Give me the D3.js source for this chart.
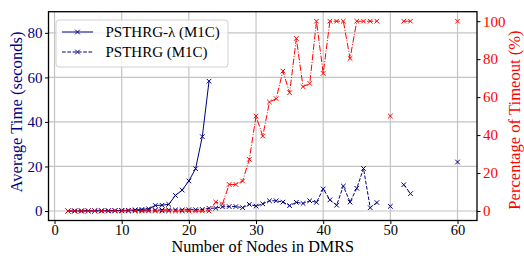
<!DOCTYPE html>
<html>
<head>
<meta charset="utf-8">
<title>chart</title>
<script src="https://cdn.jsdelivr.net/npm/d3@7"></script>
<style>
  body { margin: 0; background: #fff; }
  text { font-family: "Liberation Serif", "DejaVu Serif", serif; }
</style>
</head>
<body>
<div id="main-container"></div>
<script>
// x values: number of nodes in DMRS (null = no measurement)
var nodes = [2,3,4,5,6,7,8,9,10,11,12,13,14,15,16,17,18,19,20,21,22,23,24,25,26,27,28,29,30,31,
  32,33,34,35,36,37,38,39,40,41,42,43,44,45,46,47,48,49,50,51,52,53,54,55,56,57,58,59,60];

// average time (seconds), PSTHRG-lambda
var timeLambda = [0.02,0.03,0.05,0.07,0.1,0.12,0.15,0.2,0.25,0.35,0.5,0.7,1.0,2.5,2.6,3.0,7.0,9.4,13.5,19.0,33.4,58.3,
  null,null,null,null,null,null,null,null,null,null,null,null,null,null,null,null,null,null,null,null,null,null,null,
  null,null,null,null,null,null,null,null,null,null,null,null,null,null];

// average time (seconds), PSTHRG
var timePlain = [0,0,0.02,0.03,0.05,0.07,0.08,0.1,0.15,0.2,0.25,0.3,0.35,0.4,0.45,0.5,0.5,0.5,0.6,0.6,0.7,1.2,
  1.3,1.9,2.0,2.0,1.5,3.0,2.2,3.2,4.6,4.6,4.0,2.4,3.9,3.4,4.6,3.9,9.9,5.0,2.6,11.2,4.0,10.2,19.1,1.5,3.8,
  null,2.1,null,11.8,7.8,null,null,null,null,null,null,22.0];

// percentage of timeout (%)
var timeoutPct = [0,0,0,0,0,0,0,0,0,0,0,0,0,0,0,0,0,0,0,0,0,0,
  4.7,3.7,14,14,15.8,27.2,50,39.5,57.4,59.2,73.7,62.3,90.9,65.5,67.2,100,72.5,100,100,100,80.4,100,100,100,100,
  null,50,null,100,100,null,null,null,null,null,null,100];

var xTicks = [0,10,20,30,40,50,60];
var leftTicks = [0,20,40,60,80];
var rightTicks = [0,20,40,60,80,100];

var width = 524, height = 256;
var pLeft = 48.5, pRight = 477, pTop = 11.7, pBottom = 220.5;
var blue = "#000080", red = "#ff0000";

var svg = d3.select("#main-container").append("svg")
  .attr("width", width)
  .attr("height", height);

var x = d3.scaleLinear().domain([-0.9, 62.9]).range([pLeft, pRight]);
var yL = d3.scaleLinear().domain([-4.26, 89.5]).range([pBottom, pTop]);
var yR = d3.scaleLinear().domain([-5, 105]).range([pBottom, pTop]);

// grid
svg.append("g").selectAll("line").data(xTicks).enter().append("line")
  .attr("x1", function(d) { return x(d); }).attr("x2", function(d) { return x(d); })
  .attr("y1", pTop).attr("y2", pBottom)
  .attr("stroke", "#c4c4c4").attr("stroke-width", 1.2);
svg.append("g").selectAll("line").data(leftTicks).enter().append("line")
  .attr("y1", function(d) { return yL(d); }).attr("y2", function(d) { return yL(d); })
  .attr("x1", pLeft).attr("x2", pRight)
  .attr("stroke", "#c4c4c4").attr("stroke-width", 1.2);

// axes
function styleAxis(g, color, size) {
  g.select(".domain").remove();
  g.selectAll(".tick line").attr("stroke", "#000").attr("stroke-width", 1);
  g.selectAll(".tick text")
    .attr("fill", color)
    .style("font-family", "'Liberation Serif', serif")
    .style("font-size", size);
}

svg.append("g")
  .attr("transform", "translate(0," + pBottom + ")")
  .call(d3.axisBottom(x).tickValues(xTicks).tickSize(3.5).tickPadding(0.5))
  .call(styleAxis, "#000", "14.5px");

svg.append("g")
  .attr("transform", "translate(" + pLeft + ",0)")
  .call(d3.axisLeft(yL).tickValues(leftTicks).tickSize(3.5).tickPadding(2.5))
  .call(styleAxis, blue, "15px");

svg.append("g")
  .attr("transform", "translate(" + pRight + ",0)")
  .call(d3.axisRight(yR).tickValues(rightTicks).tickSize(3.5).tickPadding(2.5))
  .call(styleAxis, red, "15px");

// series
function drawSeries(values, yScale, color, dash) {
  var pts = nodes.map(function(n, i) { return { x: n, y: values[i] }; });
  var line = d3.line()
    .defined(function(d) { return d.y !== null; })
    .x(function(d) { return x(d.x); })
    .y(function(d) { return yScale(d.y); });
  svg.append("path")
    .datum(pts)
    .attr("d", line)
    .attr("fill", "none")
    .attr("stroke", color)
    .attr("stroke-width", 1)
    .attr("stroke-dasharray", dash);
  var s = 2.3;
  svg.append("g").selectAll("path").data(pts.filter(function(d) { return d.y !== null; }))
    .enter().append("path")
    .attr("d", function(d) {
      var cx = x(d.x), cy = yScale(d.y);
      return "M" + (cx - s) + "," + (cy - s) + "L" + (cx + s) + "," + (cy + s) +
             "M" + (cx - s) + "," + (cy + s) + "L" + (cx + s) + "," + (cy - s);
    })
    .attr("stroke", color)
    .attr("stroke-width", 1)
    .attr("fill", "none");
}

drawSeries(timeLambda, yL, blue, null);
drawSeries(timePlain, yL, blue, "3.7,1.6");

// legend
var legend = svg.append("g");
legend.append("rect")
  .attr("x", 56).attr("y", 20).attr("width", 172).attr("height", 47)
  .attr("rx", 3)
  .attr("fill", "#fff").attr("fill-opacity", 0.8)
  .attr("stroke", "#d0d0d0").attr("stroke-width", 1);
var legendItems = [
  { label: "PSTHRG-λ (M1C)", dash: null, y: 32 },
  { label: "PSTHRG (M1C)", dash: "3.7,1.6", y: 52 }
];
legendItems.forEach(function(it) {
  legend.append("line")
    .attr("x1", 62).attr("x2", 93).attr("y1", it.y).attr("y2", it.y)
    .attr("stroke", blue).attr("stroke-width", 1).attr("stroke-dasharray", it.dash);
  legend.append("path")
    .attr("d", "M75.2," + (it.y - 2.3) + "L79.8," + (it.y + 2.3) + "M75.2," + (it.y + 2.3) + "L79.8," + (it.y - 2.3))
    .attr("stroke", blue).attr("stroke-width", 1);
  legend.append("text")
    .attr("x", 105.5).attr("y", it.y + 5)
    .attr("font-size", "15px")
    .attr("fill", "#000")
    .text(it.label);
});

drawSeries(timeoutPct, yR, red, "6.4,1.6,1,1.6");

// frame
svg.append("rect")
  .attr("x", pLeft).attr("y", pTop).attr("width", pRight - pLeft).attr("height", pBottom - pTop)
  .attr("fill", "none").attr("stroke", "#000").attr("stroke-width", 1.3);

// axis labels
svg.append("text")
  .attr("x", (pLeft + pRight) / 2).attr("y", 252.4)
  .attr("text-anchor", "middle")
  .attr("font-size", "16.2px")
  .attr("fill", "#000")
  .text("Number of Nodes in DMRS");

svg.append("text")
  .attr("transform", "translate(22," + 112 + ") rotate(-90)")
  .attr("text-anchor", "middle")
  .attr("font-size", "16.6px")
  .attr("fill", blue)
  .text("Average Time (seconds)");

svg.append("text")
  .attr("transform", "translate(519.5," + 120 + ") rotate(-90)")
  .attr("text-anchor", "middle")
  .attr("font-size", "16.6px")
  .attr("fill", red)
  .text("Percentage of Timeout (%)");
</script>
</body>
</html>
